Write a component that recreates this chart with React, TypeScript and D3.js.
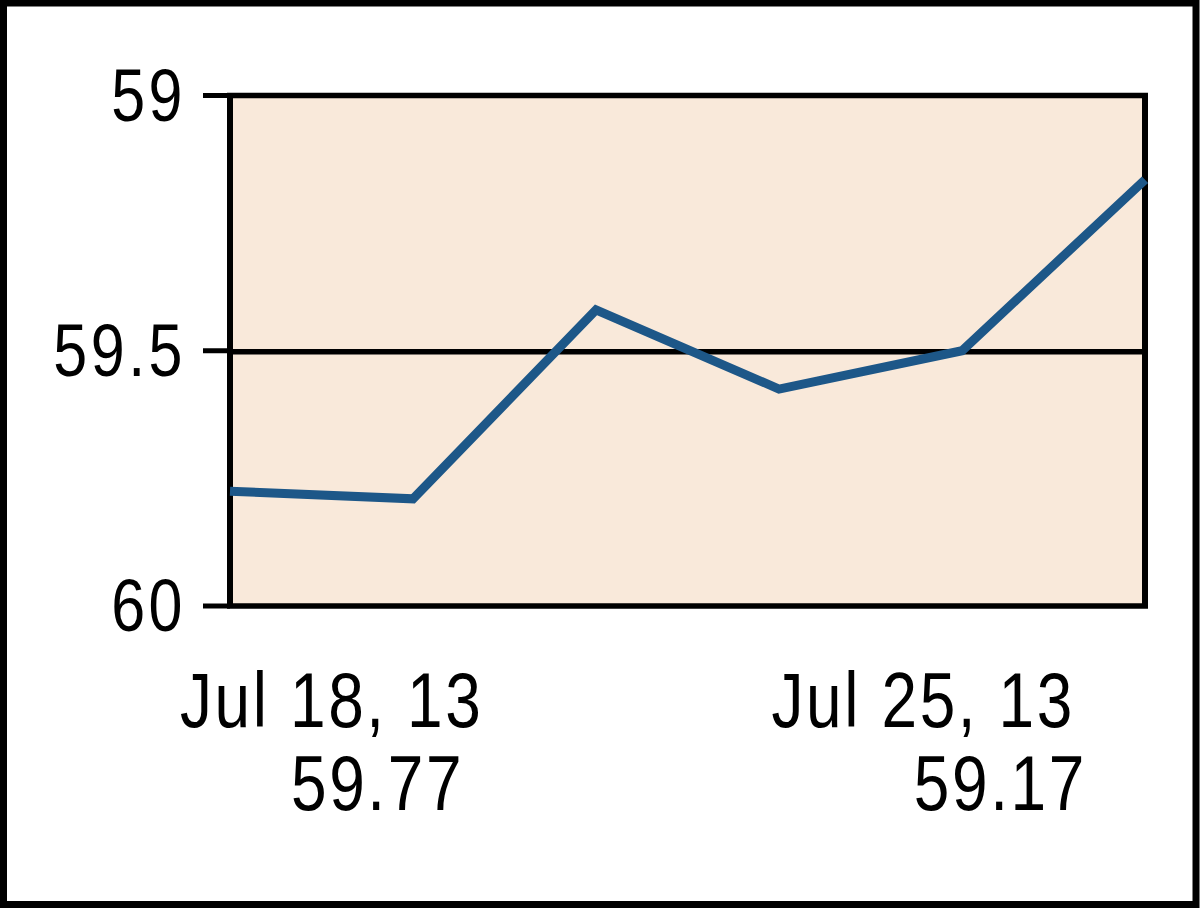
import React from "react";
import * as d3 from "d3";

const dates = ["2013-07-18", "2013-07-19", "2013-07-22", "2013-07-23", "2013-07-24", "2013-07-25"];
const values = [59.775, 59.79, 59.42, 59.575, 59.5, 59.165];
const yTicks = [59, 59.5, 60];
const startLabel = ["Jul 18, 13", "59.77"];
const endLabel = ["Jul 25, 13", "59.17"];

const W = 1200;
const H = 908;
const left = 230;
const right = 1145;
const top = 95.5;
const bottom = 606;

export default function App() {
  const x = d3.scalePoint<string>().domain(dates).range([left, right]);
  const y = d3.scaleLinear().domain([59, 60]).range([top, bottom]);
  const line = d3
    .line<number>()
    .x((_, i) => x(dates[i]) as number)
    .y((d) => y(d));

  const font = "'Liberation Sans', Arial, sans-serif";
  const x0 = x(dates[0]) as number;
  const x1 = x(dates[dates.length - 1]) as number;

  return (
    <svg
      width={W}
      height={H}
      style={{ position: "absolute", left: 0, top: 0, display: "block" }}
    >
      <rect x={0} y={0} width={W} height={H} fill="#ffffff" />
      <rect x={3.5} y={3} width={W - 7.5} height={H - 6.5} fill="none" stroke="#000" strokeWidth={7} />
      <rect x={left} y={top} width={right - left} height={bottom - top} fill="#f9e9da" />
      {yTicks.slice(1, -1).map((t) => (
        <line key={"g" + t} x1={left} x2={right} y1={y(t) + 1} y2={y(t) + 1} stroke="#000" strokeWidth={5.5} />
      ))}
      <line x1={left - 3} x2={right + 3} y1={top} y2={top} stroke="#000" strokeWidth={5.5} />
      <line x1={left - 3} x2={right + 3} y1={bottom} y2={bottom} stroke="#000" strokeWidth={5.5} />
      <line x1={left} x2={left} y1={top} y2={bottom} stroke="#000" strokeWidth={6} />
      <line x1={right} x2={right} y1={top} y2={bottom} stroke="#000" strokeWidth={6} />
      {yTicks.map((t) => (
        <g key={"t" + t}>
          <line x1={203} x2={left} y1={y(t)} y2={y(t)} stroke="#000" strokeWidth={5} />
          <g transform={`translate(186, ${y(t) + 25}) scale(1, 1.2)`}>
            <text x={0} y={0} textAnchor="end" fontFamily={font} fontSize={61} letterSpacing={3.5} fill="#000">
              {d3.format("")(t)}
            </text>
          </g>
        </g>
      ))}
      <path d={line(values) || ""} fill="none" stroke="#1d5788" strokeWidth={9} strokeLinejoin="miter" />
      <g transform={`translate(${x0 - 50}, 727) scale(1, 1.22)`}>
        <text fontFamily={font} fontSize={64} letterSpacing={2.6} fill="#000">{startLabel[0]}</text>
      </g>
      <g transform={`translate(${x0 + 61}, 810) scale(1, 1.22)`}>
        <text fontFamily={font} fontSize={64} letterSpacing={2.6} fill="#000">{startLabel[1]}</text>
      </g>
      <g transform={`translate(${x1 - 70}, 727) scale(1, 1.22)`}>
        <text fontFamily={font} fontSize={64} letterSpacing={2.6} textAnchor="end" fill="#000">{endLabel[0]}</text>
      </g>
      <g transform={`translate(${x1 - 58}, 810) scale(1, 1.22)`}>
        <text fontFamily={font} fontSize={64} letterSpacing={2.6} textAnchor="end" fill="#000">{endLabel[1]}</text>
      </g>
    </svg>
  );
}
